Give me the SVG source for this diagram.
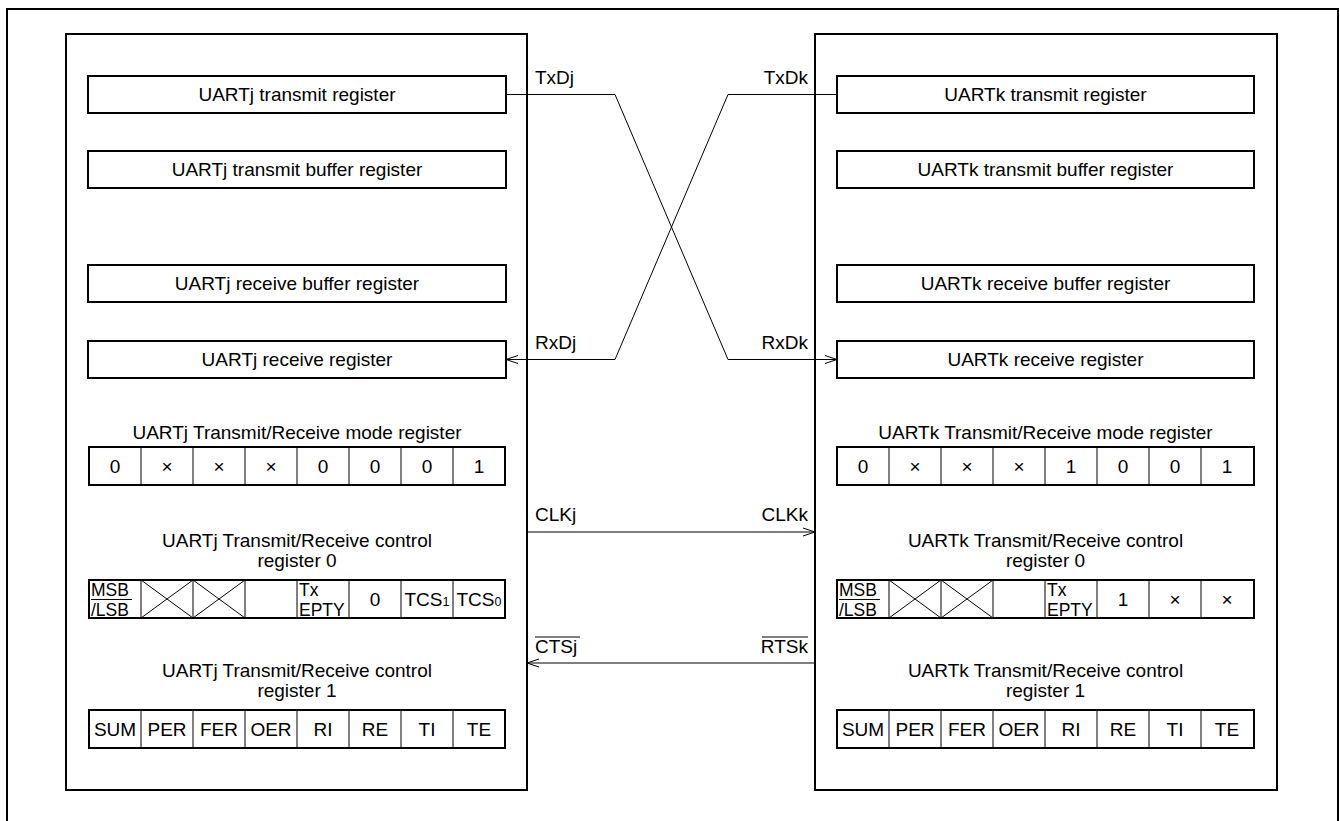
<svg xmlns="http://www.w3.org/2000/svg" width="1340" height="821" viewBox="0 0 1340 821">
<defs>
<marker id="arr" markerWidth="14" markerHeight="10" refX="13" refY="5" orient="auto" markerUnits="userSpaceOnUse">
<path d="M1,1 L13,5 L1,9" fill="none" stroke="#000" stroke-width="1"/>
</marker>
<style>
text{font-family:"Liberation Sans",Arial,sans-serif;font-size:19px;fill:#000}
.c{text-anchor:middle}
.e{text-anchor:end}
.sm{font-size:17.5px}
.sub{font-size:12.5px}
.frame{fill:none;stroke:#000;stroke-width:2}
.box{fill:#fff;stroke:#000;stroke-width:2}
.div{stroke:#000;stroke-width:1;fill:none}
.wire{stroke:#000;stroke-width:1;fill:none}
</style>
</defs>
<rect width="1340" height="821" fill="#fff"/>
<rect class="frame" x="7" y="9" width="1331" height="830"/>

<g id="chip-j">
<rect class="frame" x="66" y="34" width="461" height="756"/>
</g>
<g id="chip-k">
<rect class="frame" x="815" y="34" width="462" height="756"/>
</g>

<g id="uartj-tx-reg"><rect class="box" x="88" y="76" width="418" height="37"/><text class="c" x="297" y="101">UARTj transmit register</text></g>
<g id="uartj-txbuf-reg"><rect class="box" x="88" y="151" width="418" height="37"/><text class="c" x="297" y="176">UARTj transmit buffer register</text></g>
<g id="uartj-rxbuf-reg"><rect class="box" x="88" y="265" width="418" height="37"/><text class="c" x="297" y="290">UARTj receive buffer register</text></g>
<g id="uartj-rx-reg"><rect class="box" x="88" y="341" width="418" height="37"/><text class="c" x="297" y="366">UARTj receive register</text></g>

<g id="uartk-tx-reg"><rect class="box" x="837" y="76" width="417" height="37"/><text class="c" x="1045.5" y="101">UARTk transmit register</text></g>
<g id="uartk-txbuf-reg"><rect class="box" x="837" y="151" width="417" height="37"/><text class="c" x="1045.5" y="176">UARTk transmit buffer register</text></g>
<g id="uartk-rxbuf-reg"><rect class="box" x="837" y="265" width="417" height="37"/><text class="c" x="1045.5" y="290">UARTk receive buffer register</text></g>
<g id="uartk-rx-reg"><rect class="box" x="837" y="341" width="417" height="37"/><text class="c" x="1045.5" y="366">UARTk receive register</text></g>

<g id="uartj-mode-reg">
<text class="c" x="297" y="439">UARTj Transmit/Receive mode register</text>
<rect class="box" x="89" y="447" width="416" height="38"/>
<path class="div" d="M141,447V485M193,447V485M245,447V485M297,447V485M349,447V485M401,447V485M453,447V485"/>
<text class="c" x="115" y="473">0</text><text class="c" x="167" y="473">×</text><text class="c" x="219" y="473">×</text><text class="c" x="271" y="473">×</text>
<text class="c" x="323" y="473">0</text><text class="c" x="375" y="473">0</text><text class="c" x="427" y="473">0</text><text class="c" x="479" y="473">1</text>
</g>

<g id="uartk-mode-reg">
<text class="c" x="1045.5" y="439">UARTk Transmit/Receive mode register</text>
<rect class="box" x="837" y="447" width="417" height="38"/>
<path class="div" d="M889,447V485M941,447V485M993,447V485M1045,447V485M1097,447V485M1149,447V485M1201,447V485"/>
<text class="c" x="863" y="473">0</text><text class="c" x="915" y="473">×</text><text class="c" x="967" y="473">×</text><text class="c" x="1019" y="473">×</text>
<text class="c" x="1071" y="473">1</text><text class="c" x="1123" y="473">0</text><text class="c" x="1175" y="473">0</text><text class="c" x="1227" y="473">1</text>
</g>

<g id="uartj-ctrl0">
<text class="c" x="297" y="547">UARTj Transmit/Receive control</text>
<text class="c" x="297" y="567">register 0</text>
<rect class="box" x="89" y="580" width="416" height="38"/>
<path class="div" d="M141,580V618M193,580V618M245,580V618M297,580V618M349,580V618M401,580V618M453,580V618"/>
<path class="div" d="M141,580L193,618M193,580L141,618M193,580L245,618M245,580L193,618"/>
<text class="sm" x="91" y="596">MSB</text><path class="div" d="M91,599.5H132"/><text class="sm" x="91" y="616">/LSB</text>
<text class="sm" x="299" y="596">Tx</text><text class="sm" x="299" y="616">EPTY</text>
<text class="c" x="375" y="606">0</text>
<text class="c" x="427" y="606">TCS<tspan class="sub">1</tspan></text>
<text class="c" x="479" y="606">TCS<tspan class="sub">0</tspan></text>
</g>

<g id="uartk-ctrl0">
<text class="c" x="1045.5" y="547">UARTk Transmit/Receive control</text>
<text class="c" x="1045.5" y="567">register 0</text>
<rect class="box" x="837" y="580" width="417" height="38"/>
<path class="div" d="M889,580V618M941,580V618M993,580V618M1045,580V618M1097,580V618M1149,580V618M1201,580V618"/>
<path class="div" d="M889,580L941,618M941,580L889,618M941,580L993,618M993,580L941,618"/>
<text class="sm" x="839" y="596">MSB</text><path class="div" d="M839,599.5H880"/><text class="sm" x="839" y="616">/LSB</text>
<text class="sm" x="1047" y="596">Tx</text><text class="sm" x="1047" y="616">EPTY</text>
<text class="c" x="1123" y="606">1</text>
<text class="c" x="1175" y="606">×</text>
<text class="c" x="1227" y="606">×</text>
</g>

<g id="uartj-ctrl1">
<text class="c" x="297" y="677">UARTj Transmit/Receive control</text>
<text class="c" x="297" y="697">register 1</text>
<rect class="box" x="89" y="710" width="416" height="38"/>
<path class="div" d="M141,710V748M193,710V748M245,710V748M297,710V748M349,710V748M401,710V748M453,710V748"/>
<text class="c" x="115" y="736">SUM</text><text class="c" x="167" y="736">PER</text><text class="c" x="219" y="736">FER</text><text class="c" x="271" y="736">OER</text>
<text class="c" x="323" y="736">RI</text><text class="c" x="375" y="736">RE</text><text class="c" x="427" y="736">TI</text><text class="c" x="479" y="736">TE</text>
</g>

<g id="uartk-ctrl1">
<text class="c" x="1045.5" y="677">UARTk Transmit/Receive control</text>
<text class="c" x="1045.5" y="697">register 1</text>
<rect class="box" x="837" y="710" width="417" height="38"/>
<path class="div" d="M889,710V748M941,710V748M993,710V748M1045,710V748M1097,710V748M1149,710V748M1201,710V748"/>
<text class="c" x="863" y="736">SUM</text><text class="c" x="915" y="736">PER</text><text class="c" x="967" y="736">FER</text><text class="c" x="1019" y="736">OER</text>
<text class="c" x="1071" y="736">RI</text><text class="c" x="1123" y="736">RE</text><text class="c" x="1175" y="736">TI</text><text class="c" x="1227" y="736">TE</text>
</g>

<g id="connectors">
<polyline class="wire" points="506,94.5 615,94.5 728,359.5 837,359.5" marker-end="url(#arr)"/>
<polyline class="wire" points="837,94.5 728,94.5 615,359.5 506,359.5" marker-end="url(#arr)"/>
<line class="wire" x1="527" y1="532" x2="815" y2="532" marker-end="url(#arr)"/>
<line class="wire" x1="815" y1="663" x2="527" y2="663" marker-end="url(#arr)"/>
<text x="535" y="84">TxDj</text>
<text class="e" x="808" y="84">TxDk</text>
<text x="535" y="349">RxDj</text>
<text class="e" x="808" y="349">RxDk</text>
<text x="535" y="521">CLKj</text>
<text class="e" x="808" y="521">CLKk</text>
<text x="535" y="653">CTSj</text><path class="div" d="M535,637H580"/>
<text class="e" x="808" y="653">RTSk</text><path class="div" d="M762,637H808"/>
</g>
</svg>
